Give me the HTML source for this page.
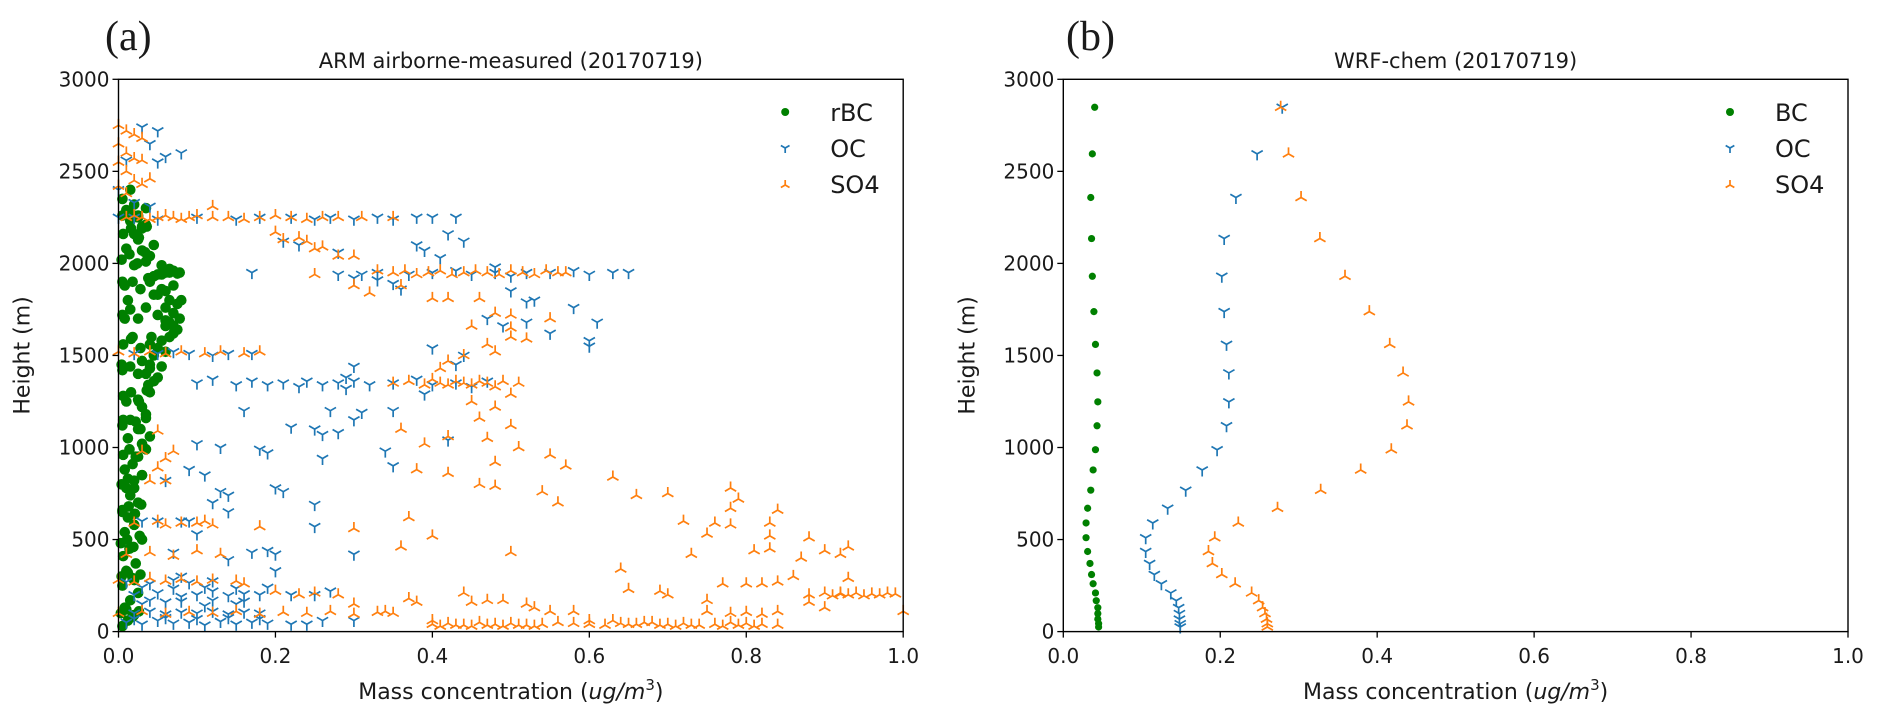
<!DOCTYPE html>
<html><head><meta charset="utf-8"><style>
html,body{margin:0;padding:0;background:#fff}
svg{display:block}
text{font-family:"DejaVu Sans","Liberation Sans",sans-serif;fill:#1a1a1a}
</style></head><body>
<svg id="fig" width="1880" height="722" viewBox="0 0 1880 722" xmlns="http://www.w3.org/2000/svg">
<text x="105" y="50" style="font-family:'Liberation Serif',serif;font-size:42px">(a)</text>
<text x="1066" y="50" style="font-family:'Liberation Serif',serif;font-size:42px">(b)</text>
</svg>
<script>
// ---------- Panel (a): ARM airborne ----------
const aBCx=[0.005,0.012,0.02,0.008,0.015,0.025,0.005,0.018,0.01,0.022,0.006,0.014,0.03,0.008,0.02,0.012,0.005,0.025,0.015,0.01,0.02,0.03,0.008,0.018,0.025,0.035,0.03,0.04,0.028,0.022,0.035,0.03,0.025,0.04,0.038,0.045,0.05,0.035,0.04,0.055,0.03,0.045,0.06,0.05,0.04,0.055,0.065,0.07,0.075,0.06,0.065,0.078,0.07,0.06,0.075,0.08,0.05,0.06,0.07,0.04,0.045,0.05,0.06,0.07,0.078,0.065,0.055,0.035,0.04,0.03,0.045,0.025,0.02,0.03,0.035,0.015,0.025,0.01,0.02,0.005,0.015,0.03,0.01,0.02,0.005,0.012,0.008,0.018,0.004,0.01,0.006,0.012,
0.003,0.01,0.018,0.026,0.004,0.012,0.02,0.028,0.003,0.011,0.019,0.027,0.005,0.013,0.021,0.029,0.004,0.012,0.02,0.03,0.006,0.014,0.022,0.032,0.005,0.015,0.025,0.035,0.006,0.016,0.026,0.036,0.005,0.015,0.025,0.04,0.006,0.016,0.028,0.042,0.005,0.015,0.025,0.035,0.008,0.018,0.028,0.038,0.004,0.014,0.024,0.034,0.006,0.016,0.026,0.036,0.005,0.015,0.025,0.035,0.045,0.055,0.065,0.075,0.05,0.06,0.07,0.045,0.055,0.065];
const aBCy=[30,60,90,130,170,210,250,290,330,370,410,450,500,540,580,620,660,700,740,780,820,850,880,910,950,990,1020,1060,1100,1140,1180,1220,1260,1300,1340,1360,1380,1400,1430,1440,1470,1500,1520,1540,1560,1580,1600,1620,1640,1660,1680,1700,1730,1760,1780,1800,1830,1850,1880,1900,1930,1940,1950,1960,1950,1970,1990,2010,2040,2070,2100,2130,2160,2190,2210,2230,2260,2290,2320,2350,2400,2200,2080,1990,1900,1800,1700,1600,1450,1250,1150,1050,
100,120,80,110,300,320,280,310,480,500,460,520,650,680,640,690,800,830,780,850,960,990,950,1000,1120,1150,1100,1160,1280,1300,1250,1310,1420,1440,1400,1450,1560,1590,1540,1600,1720,1750,1700,1760,1880,1900,1860,1920,2020,2050,2000,2060,2160,2190,2140,2200,2260,2280,2250,2300,1930,1940,1950,1945,1720,1690,1660,1830,1860,1800];
const aOCx=[0.0,0.02,0.05,0.1,0.15,0.18,0.22,0.25,0.27,0.3,0.33,0.35,0.38,0.4,0.43,
0.17,0.28,0.3,0.33,0.37,0.4,0.43,0.45,0.48,0.5,0.52,0.55,0.58,0.6,0.63,0.65,
0.21,0.23,0.28,0.38,0.39,0.42,0.44,0.41,0.48,0.5,0.52,0.53,0.58,0.61,0.55,0.6,0.6,0.49,0.52,0.47,0.44,0.43,0.4,0.33,0.31,0.36,0.35,
0.02,0.05,0.07,0.09,0.12,0.14,0.17,
0.1,0.12,0.15,0.17,0.19,0.21,0.23,0.24,0.26,0.28,0.29,0.3,0.32,0.35,0.38,0.4,0.43,0.45,0.47,0.3,0.29,
0.16,0.27,0.31,0.3,0.22,0.25,0.26,0.28,0.35,0.39,0.42,0.34,0.35,0.26,0.1,0.13,0.18,0.19,0.09,0.11,0.06,0.13,0.14,0.12,0.14,0.2,0.21,0.25,0.25,0.3,0.09,0.1,0.08,0.05,0.03,0.07,0.19,0.2,0.2,0.17,0.14,
0.01,0.03,0.05,0.07,0.09,0.11,0.13,0.15,0.17,0.19,0.02,0.04,0.06,0.08,0.1,0.12,0.14,0.16,0.18,0.02,0.05,0.08,0.1,0.12,0.14,0.16,0.18,0.01,0.04,0.07,0.09,0.12,0.22,0.24,0.26,0.3,0.22,0.25,0.27,0.03,0.06,0.11,0.15,0.08,
0.03,0.05,0.06,0.08,0.05,0.04,0.01,0.02,0.04,0.0,
0.02,0.06,0.1,0.14,0.18,0.04,0.08,0.12,0.16,0.03,0.07,0.11,0.15,0.19];
const aOCy=[2250,2250,2240,2250,2240,2250,2250,2240,2250,2240,2250,2240,2250,2250,2250,
1950,1940,1920,1950,1940,1950,1960,1940,1950,1930,1950,1950,1960,1940,1950,1950,
2120,2100,2060,2100,2070,2160,2120,2030,1980,1850,1790,1800,1760,1680,1620,1580,1550,1660,1680,1700,1500,1450,1540,1910,1940,1860,1890,
1510,1510,1520,1510,1500,1510,1510,
1350,1370,1340,1360,1340,1350,1330,1360,1340,1350,1320,1360,1340,1350,1370,1340,1350,1330,1360,1440,1380,
1200,1200,1190,1150,1110,1100,1070,1080,1200,1290,1040,980,900,940,1020,1000,990,970,880,850,820,760,740,700,650,780,760,690,570,420,600,530,600,600,600,430,440,420,330,430,390,
50,40,60,45,50,35,55,40,50,45,100,110,95,105,100,110,95,105,100,200,210,190,200,220,195,205,200,270,260,280,265,275,40,40,60,60,200,200,220,150,160,140,150,300,
2740,2720,2580,2600,2550,2650,2560,2330,2310,2400,
70,75,70,75,70,170,165,170,165,240,235,240,235,240];
const aSOx=[0.0,0.01,0.02,0.03,0.0,0.01,0.02,0.03,0.0,0.01,0.02,0.03,0.0,0.01,0.04,
0.01,0.02,0.03,0.04,0.05,0.06,0.07,0.08,0.09,0.1,0.12,0.14,0.16,0.18,0.2,0.22,0.24,0.26,0.28,0.31,0.35,0.12,
0.2,0.21,0.23,0.24,0.25,0.26,0.28,0.3,0.3,0.25,0.33,0.36,0.32,0.4,0.42,0.46,0.48,0.5,0.55,0.45,0.5,0.5,0.47,0.48,0.44,0.42,0.41,0.52,
0.35,0.365,0.38,0.395,0.41,0.425,0.44,0.455,0.47,0.485,0.5,0.515,0.53,0.545,0.56,0.57,
0.0,0.02,0.04,0.06,0.08,0.11,0.13,0.16,0.18,
0.35,0.37,0.39,0.4,0.41,0.42,0.43,0.44,0.45,0.46,0.47,0.48,0.49,0.51,
0.45,0.48,0.5,0.46,0.42,0.5,0.36,0.39,0.47,0.51,0.55,0.57,0.48,0.38,0.42,0.46,0.48,0.54,0.56,0.63,0.66,0.7,0.72,0.78,0.79,0.78,0.75,0.76,0.78,0.83,0.83,0.84,0.81,0.83,0.73,0.88,0.9,0.92,0.93,0.87,0.64,0.5,0.37,0.36,0.4,0.3,0.18,0.12,0.1,0.06,0.05,0.03,0.06,0.07,0.05,0.06,0.04,
0.4,0.42,0.44,0.46,0.48,0.5,0.52,0.54,0.56,0.58,0.6,0.62,0.64,0.66,0.68,0.7,0.72,0.74,0.76,0.78,0.8,0.82,0.84,
0.0,0.03,0.06,0.09,0.12,0.15,0.18,0.21,0.24,0.27,0.3,0.33,0.35,0.75,0.78,0.8,0.82,0.84,
0.88,0.9,0.91,0.92,0.93,0.94,0.95,0.96,0.97,0.98,0.99,
0.0,0.02,0.04,0.06,0.08,0.1,0.12,0.15,
0.65,0.69,0.7,0.75,0.77,0.8,0.82,0.84,0.86,0.88,0.9,0.92,0.93,1.0,0.37,0.38,0.44,0.45,0.47,0.49,0.52,0.53,0.55,0.58,0.6,0.63,0.65,0.67,0.28,0.3,0.23,0.25,0.16,0.2,0.34,0.4,
0.41,0.43,0.45,0.47,0.49,0.51,0.53,0.69,0.71,0.73,0.77,0.79,0.81,0.01,0.04,0.07,0.1,0.13,0.02,0.05,0.08,0.11];
const aSOy=[2750,2720,2700,2680,2650,2600,2570,2560,2550,2500,2450,2430,2420,2380,2460,
2250,2260,2250,2240,2250,2260,2250,2240,2250,2260,2250,2250,2240,2250,2260,2250,2240,2250,2250,2250,2250,2310,
2170,2130,2140,2120,2080,2090,2040,2040,1880,1940,1960,1880,1840,1810,1810,1810,1730,1720,1700,1660,1650,1600,1560,1520,1500,1470,1430,1590,
1950,1960,1940,1950,1960,1940,1950,1960,1950,1940,1960,1950,1940,1960,1950,1950,
1520,1510,1520,1510,1520,1510,1520,1510,1520,
1350,1360,1340,1370,1350,1340,1360,1350,1340,1360,1350,1330,1360,1350,
1250,1220,1290,1160,1060,1120,1100,1020,1050,1000,960,900,920,880,860,800,790,760,700,840,740,750,600,780,720,670,530,590,580,590,520,660,440,450,420,510,440,420,460,400,340,430,620,460,520,560,570,580,590,580,1090,980,940,980,890,820,820,
40,45,35,50,40,45,35,40,50,45,40,35,45,40,50,40,45,35,40,50,45,40,35,
100,110,95,105,100,110,95,105,100,110,95,105,100,110,100,105,95,110,
200,210,195,205,200,210,195,205,200,210,205,
280,270,290,275,285,270,280,275,
230,220,200,170,260,260,260,270,300,160,130,210,290,110,180,160,210,160,170,170,150,130,110,110,60,60,40,50,200,150,200,210,260,220,110,60,
30,35,30,35,30,35,30,35,30,35,30,35,30,420,430,410,440,420,590,600,590,600];

// ---------- Panel (b): WRF-chem ----------
const bHeights=[2848,2595,2358,2135,1930,1738,1560,1405,1248,1118,988,878,768,670,590,510,435,370,310,260,210,168,130,98,68,43,25];
const bBC=[0.040,0.037,0.035,0.036,0.037,0.039,0.041,0.043,0.044,0.043,0.041,0.038,0.035,0.031,0.029,0.029,0.031,0.034,0.036,0.038,0.041,0.042,0.044,0.044,0.044,0.045,0.045];
const bOC=[0.279,0.247,0.220,0.205,0.202,0.205,0.208,0.211,0.211,0.208,0.196,0.177,0.156,0.133,0.114,0.105,0.105,0.110,0.116,0.125,0.137,0.144,0.147,0.148,0.148,0.149,0.149];
const bSO4=[0.277,0.287,0.303,0.327,0.359,0.390,0.416,0.433,0.440,0.438,0.418,0.379,0.328,0.273,0.223,0.193,0.185,0.190,0.202,0.219,0.240,0.249,0.254,0.257,0.259,0.260,0.260];

const xTicks=[0.0,0.2,0.4,0.6,0.8,1.0];
const xTickLabels=['0.0','0.2','0.4','0.6','0.8','1.0'];
const yTicks=[0,500,1000,1500,2000,2500,3000];
const yTickLabels=['0','500','1000','1500','2000','2500','3000'];

const NS='http://www.w3.org/2000/svg';
const svg=document.getElementById('fig');
const T=79.3,B=631.6;
const C_BC='#008000',C_OC='#1f77b4',C_SO='#ff7f0e';

function mk(tag,attrs,parent){const e=document.createElementNS(NS,tag);for(const k in attrs)e.setAttribute(k,attrs[k]);(parent||svg).appendChild(e);return e;}
function triDown(g,cx,cy,s,col){
  return mk('path',{d:`M${cx},${cy}L${cx},${cy+s}M${cx},${cy}L${cx-s*0.866},${cy-s*0.5}M${cx},${cy}L${cx+s*0.866},${cy-s*0.5}`,stroke:col,'stroke-width':1.7,fill:'none'},g);
}
function triUp(g,cx,cy,s,col){
  return mk('path',{d:`M${cx},${cy}L${cx},${cy-s}M${cx},${cy}L${cx-s*0.866},${cy+s*0.5}M${cx},${cy}L${cx+s*0.866},${cy+s*0.5}`,stroke:col,'stroke-width':1.7,fill:'none'},g);
}

function panel(id,L,R,title,bcName,bcX,bcY,ocX,ocY,soX,soY,dotR){
  const xs=v=>L+v*(R-L);
  const ys=v=>B-v/3000*(B-T);
  const g=mk('g',{});
  
  
  const t=mk('text',{x:(L+R)/2,y:68,'text-anchor':'middle','font-size':21},g);t.textContent=title;
  
  
  const gb=mk('g',{},g);
  
  
  for(let i=0;i<bcX.length;i++){const c=mk('circle',{cx:xs(bcX[i]),cy:ys(bcY[i]),r:dotR,fill:C_BC},gb);
    
    }
  const go=mk('g',{},g);
  
  
  for(let i=0;i<ocX.length;i++){const p=triDown(go,xs(ocX[i]),ys(ocY[i]),6.5,C_OC);
    
    }
  const gs=mk('g',{},g);
  
  
  for(let i=0;i<soX.length;i++){const p=triUp(gs,xs(soX[i]),ys(soY[i]),6.5,C_SO);
    
    }
  const fr=mk('rect',{x:L,y:T,width:R-L,height:B-T,fill:'none',stroke:'#000','stroke-width':1.4},g);
  
  
  xTicks.forEach((v,i)=>{
    mk('line',{x1:xs(v),x2:xs(v),y1:B,y2:B+6,stroke:'#000','stroke-width':1.3},g);
    const tl=mk('text',{x:xs(v),y:663,'text-anchor':'middle','font-size':20},g);tl.textContent=xTickLabels[i];
    
    
  });
  yTicks.forEach((v,i)=>{
    mk('line',{x1:L-6,x2:L,y1:ys(v),y2:ys(v),stroke:'#000','stroke-width':1.3},g);
    const tl=mk('text',{x:L-9,y:ys(v)+7,'text-anchor':'end','font-size':20},g);tl.textContent=yTickLabels[i];
    
    
  });
  const xl=mk('text',{x:(L+R)/2,y:699,'text-anchor':'middle','font-size':22},g);
  xl.innerHTML='Mass concentration (<tspan font-style="italic">ug/m</tspan><tspan font-size="15" dy="-9">3</tspan><tspan dy="9">)</tspan>';
  
  
  const yl=mk('text',{x:0,y:0,'text-anchor':'middle','font-size':22,transform:`translate(${L-89},${(T+B)/2}) rotate(-90)`},g);yl.textContent='Height (m)';
  
  
  const lg=mk('g',{},g);
  
  
  const mx=R-118, tx=R-73;
  mk('circle',{cx:mx,cy:112,r:4,fill:C_BC},lg);
  const l1=mk('text',{x:tx,y:121,'font-size':24},lg);l1.textContent=bcName;
  
  
  triDown(lg,mx,148,5,C_OC);
  const l2=mk('text',{x:tx,y:157,'font-size':24},lg);l2.textContent='OC';
  
  
  triUp(lg,mx,185,5,C_SO);
  const l3=mk('text',{x:tx,y:193,'font-size':24},lg);l3.textContent='SO4';
  
  
}
panel('panel-a',118.5,903.2,'ARM airborne-measured (20170719)','rBC',aBCx,aBCy,aOCx,aOCy,aSOx,aSOy,5.3);
panel('panel-b',1063.3,1848,'WRF-chem (20170719)','BC',bBC,bHeights,bOC,bHeights,bSO4,bHeights,3.6);
</script>
</body></html>
